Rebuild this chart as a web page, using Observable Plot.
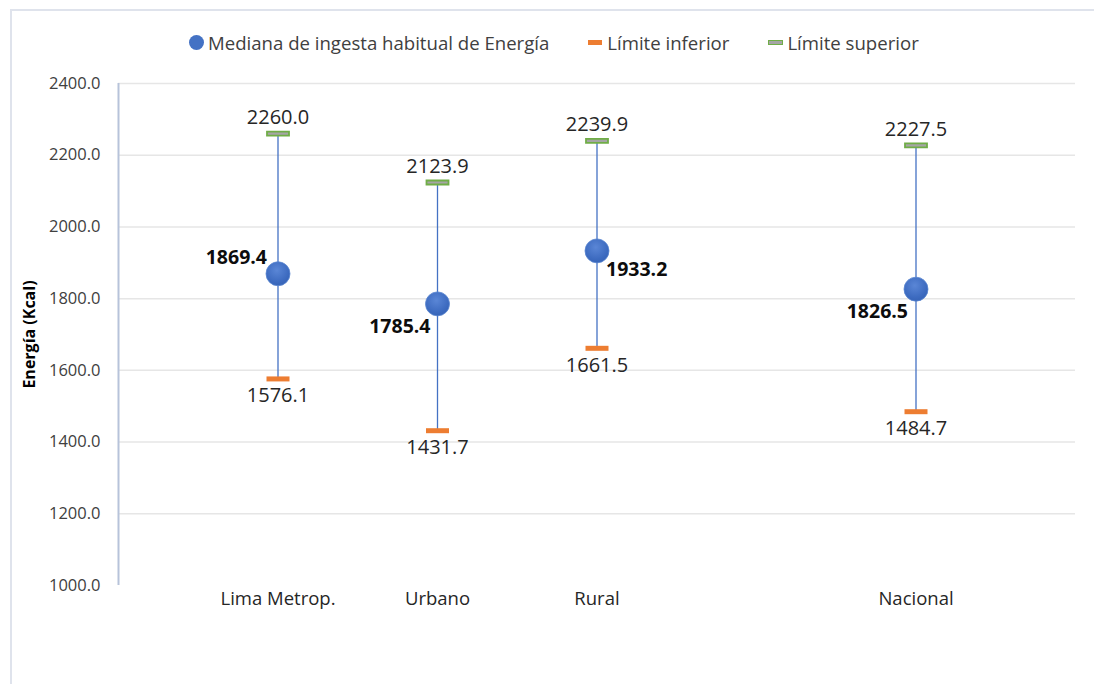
<!DOCTYPE html>
<html>
<head>
<meta charset="utf-8">
<script src="https://cdn.jsdelivr.net/npm/d3@7"></script>
<script src="https://cdn.jsdelivr.net/npm/@observablehq/plot@0.6"></script>
<style>
  html, body { margin: 0; padding: 0; background: #fff; }
  #wrap { position: relative; width: 1094px; height: 684px; overflow: hidden; font-family: "Open Sans", sans-serif; }
  #frame { position: absolute; left: 10px; top: 9px; right: -4px; bottom: -4px; border: 2px solid #dfe3ec; }
  #chart { position: absolute; left: 0; top: 0; }
  #legend { position: absolute; top: 30px; left: 189px; display: flex; align-items: center; font-size: 18.6px; color: #404040; white-space: nowrap; }
  .item { display: flex; align-items: center; margin-right: 39px; }
  .sw-dot { width: 15px; height: 15px; border-radius: 50%; background: #4472C4; margin-right: 4px; }
  .sw-lo { width: 14px; height: 5px; background: #ED7D31; margin-right: 5px; }
  .sw-hi { width: 13px; height: 3px; background: #a5a5a5; border: 1px solid #70AD47; margin-right: 4px; }
</style>
</head>
<body>
<div id="wrap">
  <div id="frame"></div>
  <div id="chart"></div>
  <div id="legend">
    <div class="item"><span class="sw-dot"></span>Mediana de ingesta habitual de Energía</div>
    <div class="item"><span class="sw-lo"></span>Límite inferior</div>
    <div class="item"><span class="sw-hi"></span>Límite superior</div>
  </div>
</div>
<script>
// ---- Data ----
const categories = ["Lima Metrop.", "Urbano", "Rural", "Nacional"];
const xPositions = [1, 2, 3, 5];
const medians = [1869.4, 1785.4, 1933.2, 1826.5];
const lowerLimits = [1576.1, 1431.7, 1661.5, 1484.7];
const upperLimits = [2260.0, 2123.9, 2239.9, 2227.5];
const yTicks = [1000, 1200, 1400, 1600, 1800, 2000, 2200, 2400];
const yAxisTitle = "Energía (Kcal)";

const rows = categories.map((c, i) => ({
  cat: c, x: xPositions[i], med: medians[i], lo: lowerLimits[i], hi: upperLimits[i], i
}));

// label placement style for the bold median labels (per point)
const medLabelStyle = [
  {anchor: "end", dx: -11, dy: -16},
  {anchor: "end", dx: -7, dy: 23},
  {anchor: "start", dx: 9, dy: 19},
  {anchor: "end", dx: -8, dy: 23}
];

const barSymbol = {
  draw(ctx, size) { ctx.rect(-11.5, -2.5, 23, 5); }
};
const barSymbolHi = {
  draw(ctx, size) { ctx.rect(-11, -2, 22, 4); }
};

const fontFam = "Open Sans, sans-serif";

const plot = Plot.plot({
  width: 1094,
  height: 684,
  marginTop: 83,
  marginBottom: 99,
  marginLeft: 118,
  marginRight: 19,
  style: {fontFamily: fontFam, background: "transparent", overflow: "visible"},
  x: {domain: [0, 6]},
  y: {domain: [1000, 2400]},
  marks: [
    Plot.ruleY(yTicks.filter(d => d > 1000), {stroke: "#e6e6e6", strokeWidth: 1.5}),
    Plot.ruleX([0], {stroke: "#b7c3da", strokeWidth: 2}),
    Plot.axisY({
      ticks: yTicks, tickFormat: d => d.toFixed(1), tickSize: 0, tickPadding: 18,
      fontSize: 16.5, fill: "#404040", label: null
    }),
    Plot.text([yAxisTitle], {
      frameAnchor: "left", textAnchor: "middle", rotate: -90, dx: -89, dy: 0,
      fontSize: 16, fontWeight: "bold", fill: "#000", letterSpacing: 0.6
    }),
    Plot.axisX({
      ticks: xPositions, tickFormat: (d) => categories[xPositions.indexOf(d)],
      tickSize: 0, tickPadding: 6, fontSize: 18.5, fill: "#262626", label: null
    }),
    Plot.ruleX(rows, {x: "x", y1: "lo", y2: "hi", stroke: "#4472C4", strokeWidth: 1.3}),
    Plot.dot(rows, {x: "x", y: "hi", symbol: barSymbolHi, r: 5, fill: "#a5a5a5", stroke: "#70AD47", strokeWidth: 1.8}),
    Plot.dot(rows, {x: "x", y: "lo", symbol: barSymbol, r: 5, fill: "#ED7D31", stroke: "none"}),
    Plot.dot(rows, {x: "x", y: "med", r: 12, fill: "url(#medGrad)", stroke: "#5b86d0", strokeWidth: 0.8}),
    Plot.text(rows, {x: "x", y: "hi", text: d => d.hi.toFixed(1), dy: -16, fontSize: 20, fill: "#262626"}),
    Plot.text(rows, {x: "x", y: "lo", text: d => d.lo.toFixed(1), dy: 17, fontSize: 20, fill: "#262626"}),
    ...medLabelStyle.map((s, k) =>
      Plot.text(rows.filter(d => d.i === k), {
        x: "x", y: "med", text: d => d.med.toFixed(1),
        textAnchor: s.anchor, dx: s.dx, dy: s.dy,
        fontSize: 19.5, fontWeight: "bold", fill: "#0d0d0d"
      })
    )
  ]
});

// gradient for median dots
const ns = "http://www.w3.org/2000/svg";
const defs = document.createElementNS(ns, "defs");
defs.innerHTML = `<radialGradient id="medGrad" cx="45%" cy="35%" r="70%">
  <stop offset="0%" stop-color="#5a86d6"/>
  <stop offset="70%" stop-color="#3d6bc0"/>
  <stop offset="100%" stop-color="#3562b4"/>
</radialGradient>`;
plot.insertBefore(defs, plot.firstChild);

document.getElementById("chart").appendChild(plot);
</script>
</body>
</html>
